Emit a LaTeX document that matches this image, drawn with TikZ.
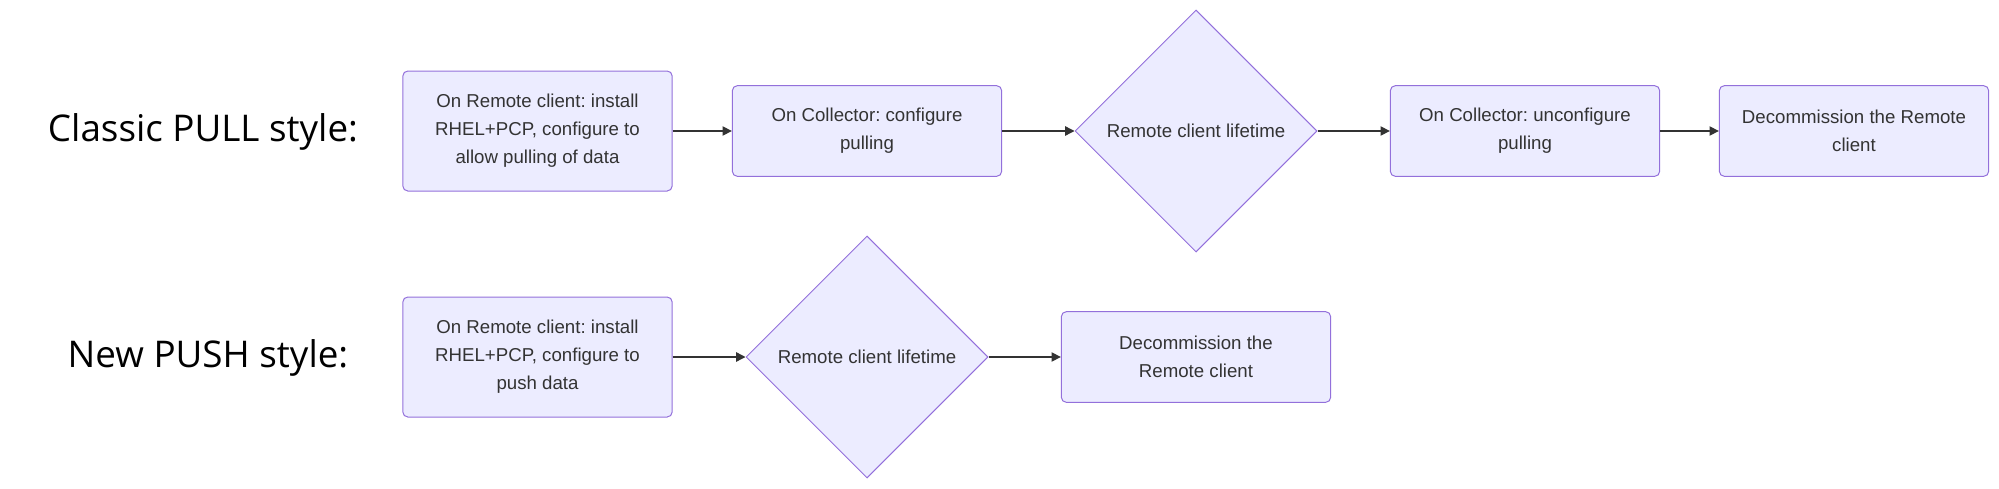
\documentclass[tikz,border=0pt]{standalone}
\usepackage{fontspec}
\setmainfont{Liberation Sans}
\newfontfamily\titlefont{Open Sans}
\usetikzlibrary{shapes.geometric,arrows.meta}
\definecolor{boxfill}{HTML}{ECECFF}
\definecolor{boxline}{HTML}{9370DB}
\definecolor{txt}{HTML}{333333}
\frenchspacing

\begin{document}
\begin{tikzpicture}[x=0.75pt,y=-0.75pt,
  stepbox/.style={draw=boxline,fill=boxfill,line width=0.75pt,rounded corners=3.75pt,
    minimum width=202pt,align=center,text=txt,font=\fontsize{14}{21}\selectfont},
  lifetime/.style={diamond,draw=boxline,fill=boxfill,line width=0.75pt,aspect=1,
    minimum width=181.5pt,minimum height=181.5pt,inner sep=0pt,text=txt,
    font=\fontsize{14}{21}\selectfont},
  flow/.style={draw=txt,line width=1pt,-{Triangle[length=7pt,width=7pt]}},
  lbl/.style={font=\titlefont\fontsize{27.6}{32}\selectfont}]
  \useasboundingbox (0,0) rectangle (1999,489);
  % classic pull
  \node[lbl] (pulltitle) at (203,132) {Classic PULL style:};
  \node[stepbox,minimum height=90pt] (pull1) at (537.5,131) {On Remote client: install\\RHEL+PCP, configure to\\allow pulling of data};
  \node[stepbox,minimum height=68pt] (pull2) at (867,131) {On Collector: configure\\pulling};
  \node[lifetime] (pulllife) at (1196,131) {Remote client lifetime};
  \node[stepbox,minimum height=68pt] (pull3) at (1525,131) {On Collector: unconfigure\\pulling};
  \node[stepbox,minimum height=68pt] (pull4) at (1854,131) {Decommission the Remote\\client};
  \draw[flow] (pull1.east) -- (pull2.west);
  \draw[flow] (pull2.east) -- (pulllife.west);
  \draw[flow] (pulllife.east) -- (pull3.west);
  \draw[flow] (pull3.east) -- (pull4.west);
  % new push
  \node[lbl] (pushtitle) at (208,358) {New PUSH style:};
  \node[stepbox,minimum height=90pt] (push1) at (537.5,357) {On Remote client: install\\RHEL+PCP, configure to\\push data};
  \node[lifetime] (pushlife) at (867,357) {Remote client lifetime};
  \node[stepbox,minimum height=68pt] (push2) at (1196,357) {Decommission the\\Remote client};
  \draw[flow] (push1.east) -- (pushlife.west);
  \draw[flow] (pushlife.east) -- (push2.west);
\end{tikzpicture}
\end{document}
